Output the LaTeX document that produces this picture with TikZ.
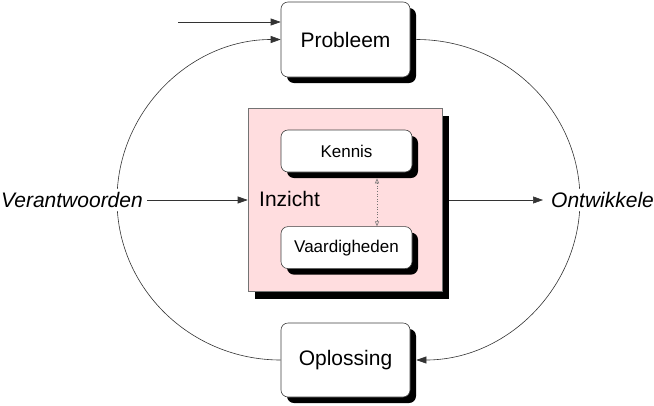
\documentclass[tikz,border=0pt]{standalone}
\usepackage{fontspec}
\setmainfont{Liberation Sans}
\usetikzlibrary{arrows.meta,shadows,positioning}
\definecolor{roze}{RGB}{255,221,223}

\begin{document}
\begin{tikzpicture}[
    x=1pt, y=-1pt,
    box/.style={rectangle, draw=black!75, rounded corners=7pt, fill=white, line width=0.6pt,
        drop shadow={shadow xshift=6pt, shadow yshift=-6pt, fill=black, opacity=1},
        minimum width=129pt, minimum height=75pt, font=\fontsize{21}{25}\selectfont},
    smallbox/.style={box, minimum width=131pt, minimum height=42pt, font=\fontsize{17}{20}\selectfont},
    veld/.style={rectangle, draw=black!55, fill=roze, line width=0.6pt,
        drop shadow={shadow xshift=7pt, shadow yshift=-7pt, fill=black, opacity=1},
        minimum width=194pt, minimum height=183pt},
    woord/.style={fill=white, inner ysep=3pt, font=\fontsize{21}{25}\selectfont\itshape},
    arrow/.style={-{Triangle[length=10pt,width=7pt]}, line width=0.6pt, draw=black!80},
    dots/.style={{Triangle[open,length=5pt,width=4pt]}-{Triangle[open,length=5pt,width=4pt]},
        dotted, line width=0.6pt, draw=black!55}
]
\useasboundingbox (0,0) rectangle (654,405);

\node[box] (prob) at (345.5,39.5) {Probleem};
\node[box, minimum height=74pt] (opl) at (345.5,360) {Oplossing};
\node[veld] (inz) at (345,200) {};
\node[anchor=west, inner sep=0pt, font=\fontsize{21}{25}\selectfont] (inztxt) at (259,199) {Inzicht};
\node[smallbox] (kennis) at (346.5,151) {Kennis};
\node[smallbox, below=54pt of kennis] (vaard) {Vaardigheden};

\coordinate (invoer) at (178,22);
\coordinate (links) at (117,200);
\coordinate (rechts) at (580,200);

% de kringloop
\draw[arrow] (opl.west) .. controls +(-90.5,0) and +(0,88) .. (links)
    .. controls +(0,-88.6) and +(-90.5,0) .. (prob.west);
\draw[arrow] ([xshift=6pt]prob.east) .. controls +(90.5,0) and +(0,-88.6) .. (rechts)
    .. controls +(0,88) and +(90.5,0) .. ([xshift=6pt]opl.east);

\node[woord, anchor=east, inner xsep=4pt] (verantw) at (147,200) {Verantwoorden};
\node[woord, anchor=west, inner xsep=8pt] (ontw) at (543,200) {Ontwikkelen};

\draw[arrow] (invoer) -- (invoer -| prob.west);
\draw[arrow] (verantw) -- (verantw -| inz.west);
\draw[arrow] ([xshift=7pt]inz.east) -- (ontw);
\draw[dots] ([shift={(30.5,6)}]kennis.south) -- ([xshift=30.5pt]vaard.north);
\end{tikzpicture}
\end{document}
